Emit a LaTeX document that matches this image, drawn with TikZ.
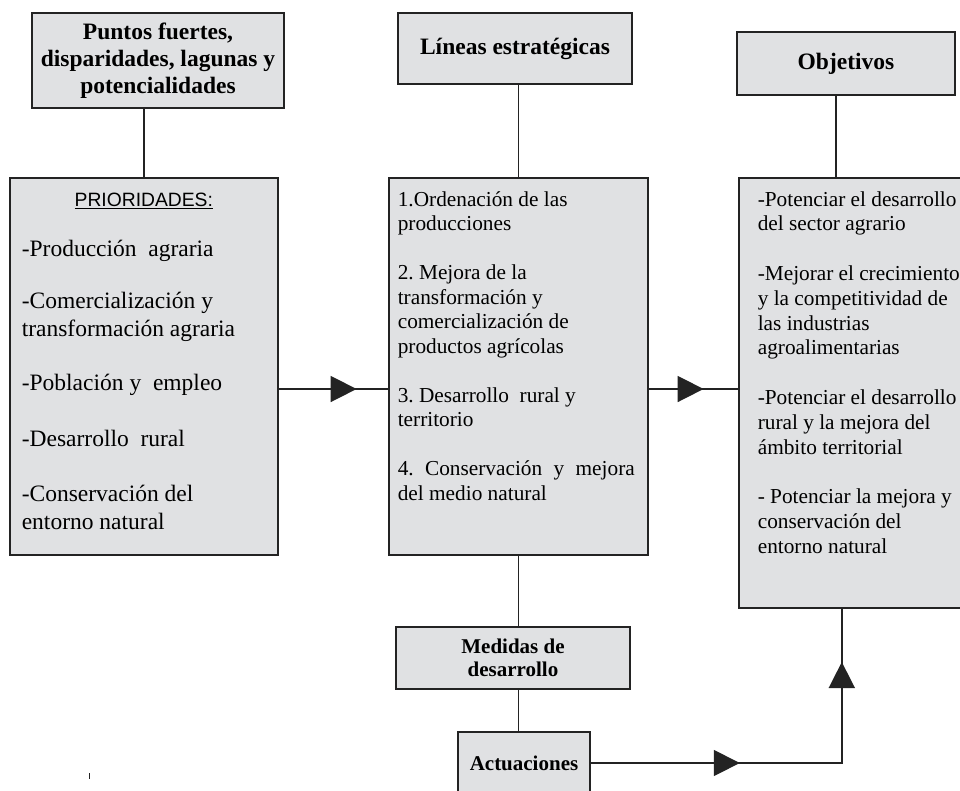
\documentclass[tikz,border=0pt]{standalone}
\usepackage{fontspec}
\setmainfont{Liberation Serif}
\setsansfont{Liberation Sans}
\usepackage{tikz}
\usetikzlibrary{arrows.meta,positioning,decorations.markings}
\usepackage{xcolor}
\frenchspacing
\definecolor{boxgray}{RGB}{224,225,227}
\definecolor{linegray}{RGB}{35,35,35}
\tikzstyle{titlebox} = [rectangle, align=center, draw=linegray, fill=boxgray, line width=1.6pt, inner sep=0pt, font=\fontsize{23.5}{27}\selectfont\bfseries]
\tikzstyle{listbox} = [rectangle, anchor=north west, draw=linegray, fill=boxgray, line width=1.6pt, inner ysep=0pt]
\tikzstyle{link} = [line width=1.6pt, color=linegray]
\tikzstyle{flow} = [link, postaction={decorate}]
\newcommand{\flowtip}{\arrow{Triangle[length=26pt,width=26pt]}}
\tikzset{tipat/.style={decoration={markings, mark=at position #1 with {\flowtip}}}}

\begin{document}
\begin{tikzpicture}[x=1pt,y=-1pt]
\useasboundingbox (0,0) rectangle (960,790);
\clip (0,0) rectangle (960,790);

% Top headings
\node[titlebox, minimum width=252pt, minimum height=95pt] (puntos) at (158,60.5) {Puntos fuertes,\\disparidades, lagunas y\\potencialidades};
\node[titlebox, minimum width=234pt, minimum height=71pt] (lineas) at (515,48.5) {Líneas estratégicas};
\node[titlebox, minimum width=218pt, minimum height=63pt] (objetivos) at (846,63.5) {Objetivos};

% Main boxes
\node[listbox, inner xsep=12pt] (prio) at (9,177) {\parbox[t][377pt][t]{244pt}{\fontsize{23.5}{28}\selectfont
\vspace*{15pt}\makebox[\linewidth]{\sffamily\fontsize{19.3}{22}\selectfont\underline{PRIORIDADES:}}\\[22pt]
-Producción\ \ agraria\\[24pt]
-Comercialización y\\
transformación agraria\\[26pt]
-Población y\ \ empleo\\[28pt]
-Desarrollo\ \ rural\\[27pt]
-Conservación del\\
entorno natural}};

\node[listbox, inner xsep=9pt] (estr) at (388,177) {\parbox[t][377pt][t]{241pt}{\fontsize{21.3}{24.5}\selectfont
\vspace*{13.5pt}1.Ordenación de las\\
producciones\\[24.5pt]
2. Mejora de la\\
transformación y\\
comercialización de\\
productos agrícolas\\[24.5pt]
3. Desarrollo\ \ rural y\\
territorio\\[24.5pt]
\makebox[237pt][s]{4. Conservación y mejora}\\
del medio natural}};

\node[listbox, inner xsep=19pt] (obj) at (738,177) {\parbox[t][430pt][t]{202pt}{\fontsize{21.3}{24.8}\selectfont
\vspace*{13.5pt}-Potenciar el desarrollo\\
del sector agrario\\[24.8pt]
-Mejorar el crecimiento\\
y la competitividad de\\
las industrias\\
agroalimentarias\\[24.8pt]
-Potenciar el desarrollo\\
rural y la mejora del\\
ámbito territorial\\[24.8pt]
- Potenciar la mejora y\\
conservación del\\
entorno natural}};

% Lower boxes
\node[titlebox, minimum width=234pt, minimum height=62pt, font=\fontsize{21}{23}\selectfont\bfseries] (medidas) at (513,658) {Medidas de\\desarrollo};
\node[titlebox, minimum width=132pt, minimum height=62pt, font=\fontsize{21}{23}\selectfont\bfseries] (actuaciones) at (524,763) {Actuaciones};

% Links
\draw[link] (prio.north) -- (prio.north |- puntos.south);
\draw[link] (estr.north) -- (estr.north |- lineas.south);
\draw[link] ([xshift=-10pt]objetivos.south) -- ([xshift=-10pt]objetivos.south |- obj.north);
\draw[link] (estr.south) -- (estr.south |- medidas.north);
\draw[link] (medidas.south -| estr.south) -- (actuaciones.north -| estr.south);

% Arrows
\draw[flow, tipat=78pt] (prio.east |- 0,389) -- (estr.west |- 0,389);
\draw[flow, tipat=55pt] (estr.east |- 0,389) -- (obj.west |- 0,389);
\draw[flow, decoration={markings, mark=at position 149pt with {\flowtip}, mark=at position 352pt with {\flowtip}}] (actuaciones.east) -| ([xshift=-17pt]obj.south);

% Mark
\draw[linegray, line width=0.8pt] (89,773) -- (89,779);
\end{tikzpicture}
\end{document}
